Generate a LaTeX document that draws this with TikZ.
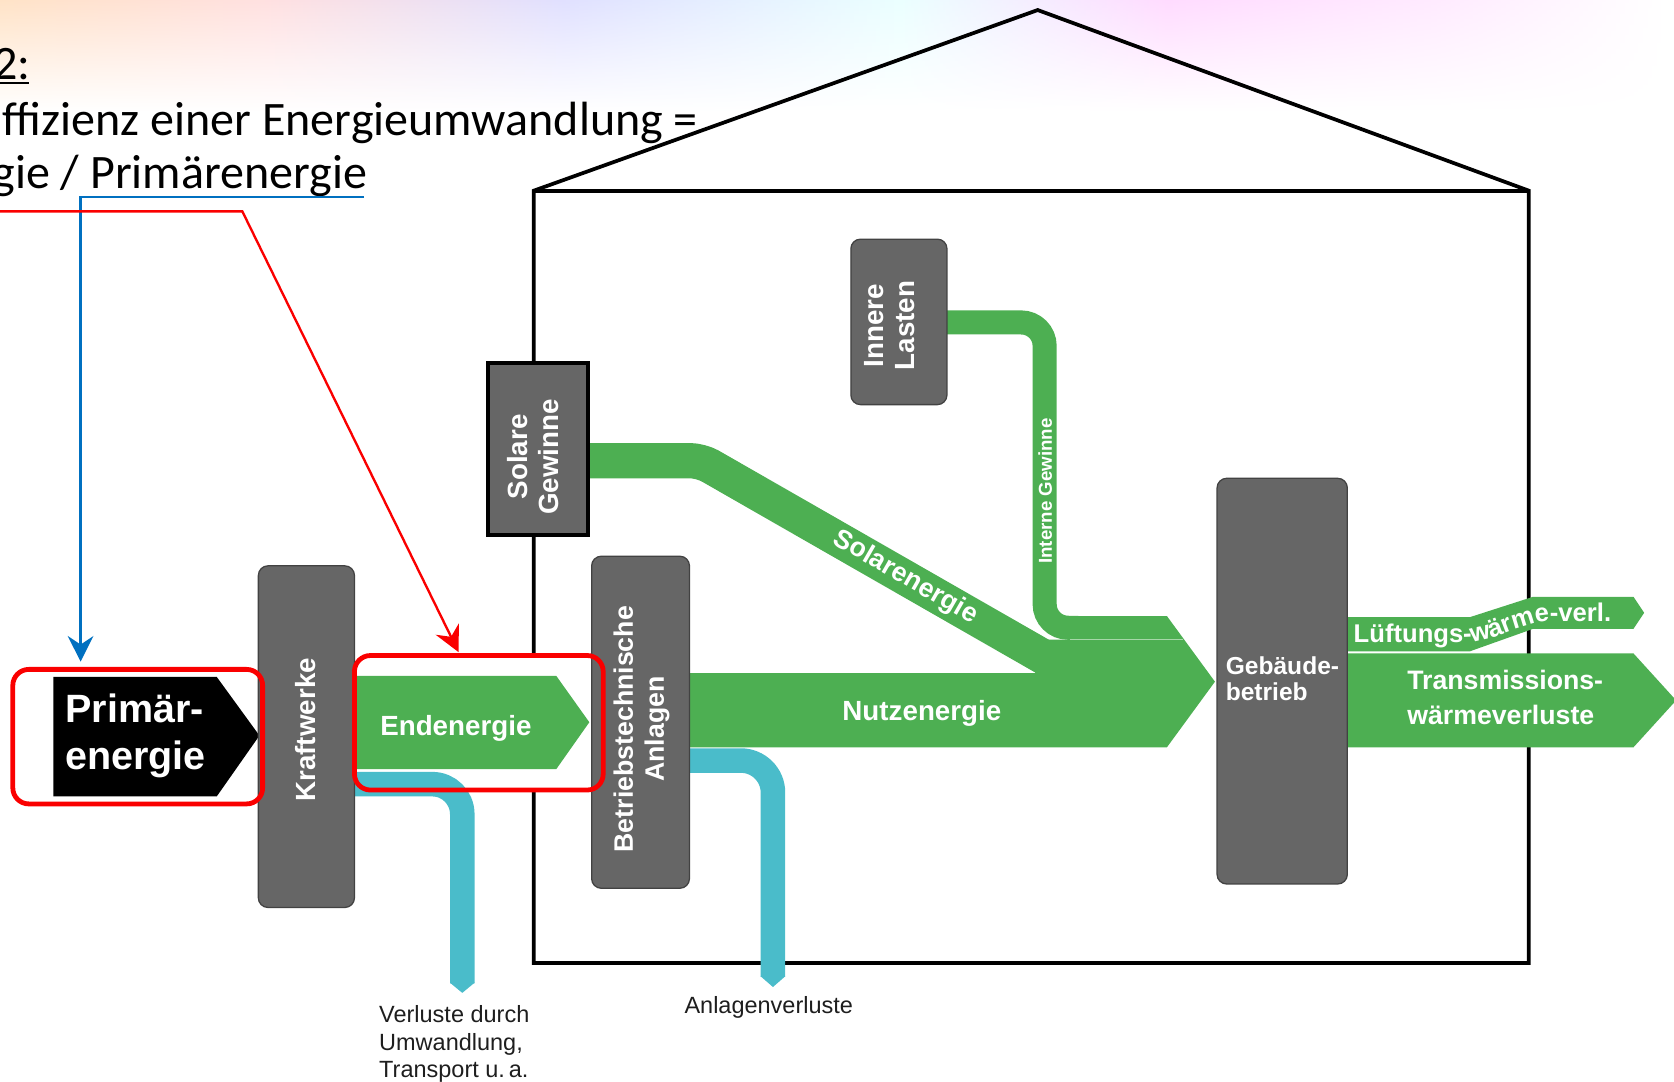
\documentclass[tikz,border=0pt]{standalone}
\usepackage{fontspec}
\setmainfont{Liberation Sans}
\newfontfamily\calfont{Carlito}
\usetikzlibrary{arrows.meta,decorations.text,fadings,calc}

\definecolor{grn}{RGB}{77,175,82}
\definecolor{cyn}{RGB}{74,188,202}
\definecolor{boxgrey}{RGB}{102,102,102}
\definecolor{boxedge}{RGB}{66,66,66}
\definecolor{annblue}{RGB}{0,112,192}
\definecolor{annred}{RGB}{250,0,0}
\definecolor{captxt}{RGB}{30,30,30}

\pgfdeclarehorizontalshading{topband}{100bp}{color(0bp)=(orange!55); color(25bp)=(orange!55); color(33bp)=(red!30); color(42bp)=(blue!30); color(52bp)=(cyan!20); color(60bp)=(magenta!35); color(68bp)=(magenta!20); color(75bp)=(white); color(100bp)=(white)}

\begin{document}
\begin{tikzpicture}[x=1pt,y=-1pt,
  box/.style={draw=boxedge, fill=boxgrey, line width=1.2pt, rounded corners=9pt, inner sep=0pt},
  rlab/.style={text=white, font=\bfseries\fontsize{26}{29}\selectfont, align=center, rotate=90, inner sep=0pt},
  flab/.style={text=white, font=\bfseries\fontsize{26}{30}\selectfont, inner sep=0pt},
  caption/.style={text=captxt, font=\fontsize{22}{25.5}\selectfont, align=left, inner sep=0pt},
  toptxt/.style={text=black, font=\calfont\fontsize{45}{54}\selectfont, inner sep=0pt},
  redframe/.style={draw=annred, line width=4.5pt, rounded corners=15pt, inner sep=0pt},
  annarrow/.style={line width=2.2pt, -{Stealth[length=24pt,width=24pt,inset=8pt]}},
  cband/.style={draw=cyn, line width=23pt},
  wall/.style={draw=black, line width=3.5pt}
]
\useasboundingbox (0,0) rectangle (1568,1013);
\clip (0,0) rectangle (1568,1013);

% pastel background band
\shade[shading=topband, path fading=south, fill opacity=0.4] (0,0) rectangle (1568,105);

% house
\draw[wall] (500,614) -- (500,178.6) -- (972,9.4) -- (1432,178.6) -- (1432,902) -- (500,902) -- (500,740);
\draw[wall] (500,178.6) -- (1432,178.6);

% cyan loss bands
\draw[cband, rounded corners=28pt] (330,734.5) -- (433,734.5) -- (433,921);
\fill[cyn] (421.5,920.5) -- (444.5,920.5) -- (433,930) -- cycle;
\draw[cband, rounded corners=30pt] (640,712.4) -- (724,712.4) -- (724,915);
\fill[cyn] (712.5,914.5) -- (735.5,914.5) -- (724,924.5) -- cycle;

% green flows
\draw[grn, line width=33pt, rounded corners=10pt] (545,431.5) -- (656.5,431.5) -- (1010,634);
\draw[grn, line width=22.5pt, rounded corners=22pt] (880,302) -- (978.5,302) -- (978.5,588) -- (1010,588);
\fill[grn] (640,630.5) -- (969.5,630.5) -- (980,599) -- (1002,599) -- (1002,577) -- (1093,577) -- (1138,638.5) -- (1093,700) -- (640,700) -- cycle;
\draw[white, opacity=0.5, line width=0.8pt] (1002,599) -- (1108,599);
\fill[grn] (334,633) -- (521,633) -- (552,676.5) -- (521,720.5) -- (334,720.5) -- cycle;
\fill[grn] (1255,578) -- (1377,578) -- (1436,559) -- (1530,559) -- (1540,574) -- (1530,589) -- (1436,589) -- (1377,610) -- (1255,610) -- cycle;
\fill[grn] (1255,612) -- (1530,612) -- (1570,656) -- (1530,700) -- (1255,700) -- cycle;

% primary energy arrow
\fill[black] (50,634) -- (203,634) -- (243,689) -- (203,746) -- (50,746) -- cycle;

% boxes
\node[box, minimum width=90pt, minimum height=320pt] (kraft) at (287,690) {};
\node[box, minimum width=91.6pt, minimum height=311pt] (betrieb) at (600,676.5) {};
\node[box, minimum width=122pt, minimum height=380pt] (gebaeude) at (1201,638) {};
\node[box, minimum width=90pt, minimum height=155pt] (innere) at (842,301.5) {};
\node[draw=black, fill=boxgrey, line width=3.5pt, inner sep=0pt, minimum width=94pt, minimum height=161pt] (solare) at (504,420.5) {};

% box labels
\node[rlab] (kraftT) at (286,683.6) {Kraftwerke};
\node[rlab, font=\bfseries\fontsize{25}{29}\selectfont] (betriebT) at (601,683) {Betriebstechnische\\Anlagen};
\node[rlab] (solareT) at (499,428) {Solare\\Gewinne};
\node[rlab] (innereT) at (833,305) {Innere\\Lasten};
\node[flab, font=\bfseries\fontsize{23}{24}\selectfont, align=left, anchor=base west] (gebaeudeT) at (1148,656) {Gebäude-\\betrieb};

% flow labels
\node[text=white, font=\bfseries\fontsize{37}{44}\selectfont, align=left, anchor=base west, inner sep=0pt] (primT) at (61,721) {Primär-\\energie};
\node[flab, anchor=base] (endT) at (427,688.5) {Endenergie};
\node[flab, anchor=base] (nutzT) at (863.5,674.5) {Nutzenergie};
\node[flab, font=\bfseries\fontsize{25}{30}\selectfont, rotate=-30] (solarT) at (848,541) {Solarenergie};
\node[flab, font=\bfseries\fontsize{17.5}{20}\selectfont, rotate=90] (interneT) at (979,460) {Interne Gewinne};
\node[flab, font=\bfseries\fontsize{25}{33}\selectfont, align=left, anchor=base west] (transT) at (1318,679) {Transmissions-\\wärmeverluste};
\path[decorate, decoration={text along path, text format delimiters={|}{|},
  text={|\bfseries\fontsize{24}{24}\selectfont\color{white}|Lüftungs-wärme-verl.}, text align=left}]
  (1268,602) -- (1372,602) .. controls (1402,602) and (1422,582) .. (1455,582) -- (1550,582);

% captions
\node[caption, anchor=base west] (verlT) at (355,1009) {Verluste durch\\Umwandlung,\\Transport u.\,a.};
\node[caption, anchor=base west] (anlT) at (641,949) {Anlagenverluste};

% top text
\node[toptxt, anchor=base east] (t1) at (29,74) {2:};
\draw[line width=2.2pt] (-2,78) -- (27,78);
\node[toptxt, anchor=base east] (t2) at (654,127) {ffizienz einer Energieumwandlung =};
\node[toptxt, anchor=base east] (t3) at (344,177) {gie / Primärenergie};

% red frames
\node[redframe, minimum width=234pt, minimum height=126pt] (primred) at (129,690) {};
\node[redframe, minimum width=233pt, minimum height=126pt] (endred) at (448.5,677) {};

% annotation connectors
\coordinate (bl0) at (341,184.5);
\coordinate (bl1) at (75.5,184.5);
\draw[annblue, annarrow, shorten >=5pt] (bl0) -- (bl1) -- (primred.north -| bl1);
\coordinate (rd0) at (-5,198);
\coordinate (rd1) at (227,198);
\coordinate (rd2) at (430,0);
\draw[annred, annarrow, shorten >=1pt] (rd0) -- (rd1) -- (endred.north -| rd2);
\end{tikzpicture}
\end{document}
